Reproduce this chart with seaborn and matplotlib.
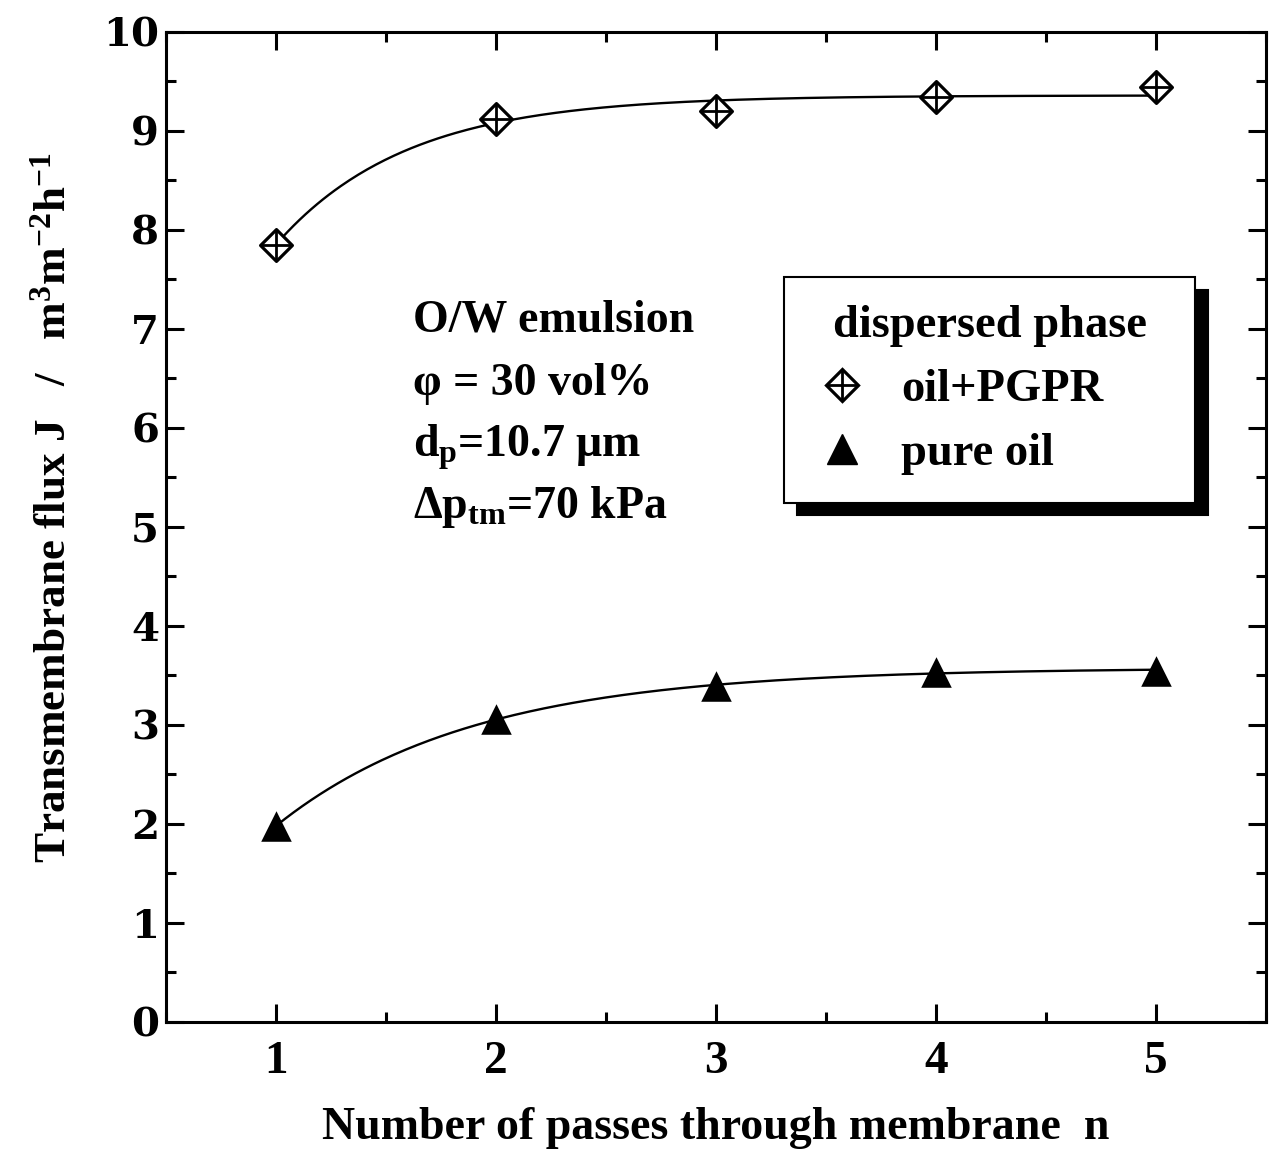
import numpy as np
import pandas as pd
import matplotlib
matplotlib.use("Agg")
import matplotlib.pyplot as plt
import seaborn as sns
from matplotlib.lines import Line2D
from matplotlib.legend_handler import HandlerTuple
from matplotlib.font_manager import FontProperties
from matplotlib.ticker import MultipleLocator

# Number of passes through the membrane
passes = [1, 2, 3, 4, 5]
# Transmembrane flux J (m3 m-2 h-1) for each dispersed phase
flux_pgpr = [7.85, 9.12, 9.20, 9.34, 9.44]
flux_pure = [1.98, 3.06, 3.39, 3.54, 3.55]
series_names = ["oil+PGPR", "pure oil"]

x_ticks = [1, 2, 3, 4, 5]
y_ticks = [0, 1, 2, 3, 4, 5, 6, 7, 8, 9, 10]

sns.set_theme(style="ticks")
plt.rcParams["font.family"] = ["Liberation Serif", "DejaVu Serif"]
plt.rcParams["font.weight"] = "bold"
plt.rcParams["text.color"] = "black"
plt.rcParams["axes.labelcolor"] = "black"
plt.rcParams["axes.edgecolor"] = "black"
plt.rcParams["xtick.color"] = "black"
plt.rcParams["ytick.color"] = "black"
plt.rcParams["mathtext.fontset"] = "custom"
plt.rcParams["mathtext.rm"] = "Liberation Serif:bold"
plt.rcParams["mathtext.it"] = "Liberation Serif:bold"
plt.rcParams["mathtext.bf"] = "Liberation Serif:bold"
plt.rcParams["mathtext.default"] = "rm"


def saturation_fit(n, j):
    """Least-squares fit of J = a - b*exp(-k n); returns a callable."""
    n = np.asarray(n, float)
    j = np.asarray(j, float)
    best = None
    for k in np.linspace(0.2, 4.0, 1521):
        A = np.column_stack([np.ones_like(n), -np.exp(-k * n)])
        coef, *_ = np.linalg.lstsq(A, j, rcond=None)
        err = np.sum((A @ coef - j) ** 2)
        if best is None or err < best[0]:
            best = (err, coef[0], coef[1], k)
    _, a, b, k = best
    return lambda t: a - b * np.exp(-k * t)


df = pd.DataFrame({
    "n": passes * 2,
    "J": flux_pgpr + flux_pure,
    "phase": [series_names[0]] * len(passes) + [series_names[1]] * len(passes),
})

fig = plt.figure(figsize=(12.75, 11.51), dpi=100)
ax = fig.add_axes([0.1302, 0.1121, 0.8628, 0.8601])

# fitted saturation curves
n_fine = np.linspace(min(passes), max(passes), 300)
for vals in (flux_pgpr, flux_pure):
    f = saturation_fit(passes, vals)
    sns.lineplot(x=n_fine, y=f(n_fine), color="black", linewidth=1.7, ax=ax,
                 sort=False, legend=False, zorder=2)

d_pgpr = df[df["phase"] == series_names[0]]
d_pure = df[df["phase"] == series_names[1]]

DIA_MS, PLUS_MS, TRI_MS = 16.2, 23.0, 22.0

# crossed diamonds
sns.scatterplot(data=d_pgpr, x="n", y="J", marker="D", s=DIA_MS ** 2,
                facecolor="white", edgecolor="black", linewidth=2.3,
                ax=ax, zorder=3, legend=False)
sns.scatterplot(data=d_pgpr, x="n", y="J", marker="+", s=PLUS_MS ** 2,
                color="black", linewidth=2.0, ax=ax, zorder=4, legend=False)
# filled triangles
sns.scatterplot(data=d_pure, x="n", y="J", marker="^", s=TRI_MS ** 2,
                color="black", edgecolor="black", linewidth=0,
                ax=ax, zorder=3, legend=False)

ax.set_xlim(0.5, 5.5)
ax.set_ylim(0, 10)
ax.set_xticks(x_ticks)
ax.set_yticks(y_ticks)
ax.xaxis.set_minor_locator(MultipleLocator(0.5))
ax.yaxis.set_minor_locator(MultipleLocator(0.5))
ax.tick_params(which="both", direction="in", top=True, right=True,
               color="black")
ax.tick_params(which="major", length=13, width=2.2)
ax.tick_params(which="minor", length=7, width=2.2)
ax.tick_params(axis="x", which="major", pad=14)
ax.tick_params(axis="y", which="major", pad=5)
for sp in ax.spines.values():
    sp.set_linewidth(2.2)
    sp.set_color("black")

for lab in ax.get_xticklabels():
    lab.set_fontproperties(FontProperties(family="Liberation Serif",
                                          weight="bold", size=34))
for lab in ax.get_yticklabels():
    lab.set_fontproperties(FontProperties(family="DejaVu Serif",
                                          weight="bold", size=29))

ax.set_xlabel("Number of passes through membrane  n", fontsize=33,
              fontweight="bold", va="top")
ax.xaxis.set_label_coords(0.5, -0.086)
ax.set_ylabel(r"Transmembrane flux J   /   m$^{3}$m$^{-2}$h$^{-1}$",
              fontsize=32.5, fontweight="bold")
ax.yaxis.set_label_coords(-0.0836, 0.52)

# operating conditions
cond = ["O/W emulsion", "φ = 30 vol%", r"d$_{\mathrm{p}}$=10.7 μm",
        r"Δp$_{\mathrm{tm}}$=70 kPa"]
cond_y = [0.697, 0.633, 0.571, 0.509]
for txt, yy in zip(cond, cond_y):
    ax.text(0.2245, yy, txt, transform=ax.transAxes, fontsize=33,
            fontweight="bold", ha="left", va="baseline")

# legend
h_pgpr = (Line2D([], [], ls="none", marker="D", ms=DIA_MS, mfc="white",
                 mec="black", mew=2.3),
          Line2D([], [], ls="none", marker="+", ms=PLUS_MS, mec="black",
                 mew=2.0))
h_pure = Line2D([], [], ls="none", marker="^", ms=TRI_MS, color="black")
leg_font = FontProperties(family="Liberation Serif", weight="bold", size=33.5)
leg = ax.legend([h_pgpr, h_pure], series_names, title="dispersed phase",
                handler_map={tuple: HandlerTuple(ndivide=1, pad=0)},
                loc="upper left", bbox_to_anchor=(0.5618, 0.5, 0.3736, 0.2525),
                mode="expand", prop=leg_font, title_fontproperties=leg_font,
                frameon=True, fancybox=False, framealpha=1,
                edgecolor="black", borderpad=0.6, handlelength=1.3,
                handletextpad=0.62, labelspacing=0.46,
                borderaxespad=0,
                shadow={"ox": 9, "oy": -9, "facecolor": "black",
                        "edgecolor": "black", "alpha": 1})
leg.get_frame().set_linewidth(1.5)

fig.savefig("out.png", dpi=100, facecolor="white")
